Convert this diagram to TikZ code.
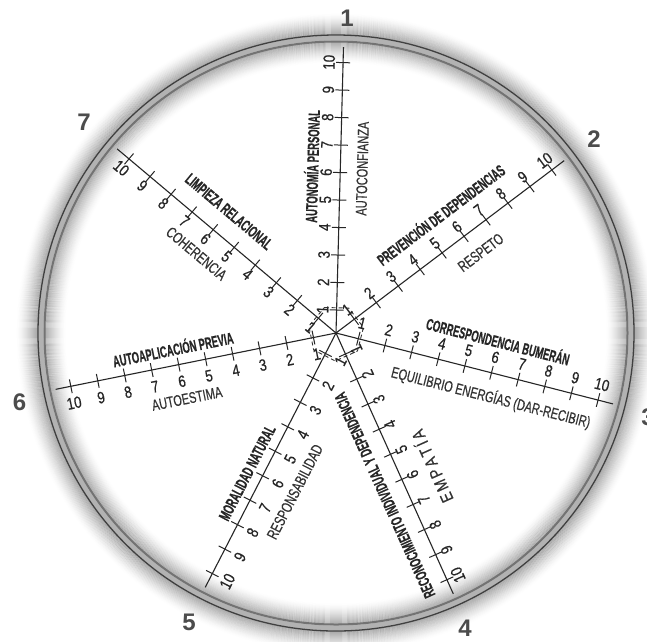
\documentclass[tikz,border=0pt]{standalone}
\usepackage{fontspec}
\setmainfont{Liberation Sans}
\newfontfamily\lblB[FakeStretch=0.58,FakeBold=0.4]{Liberation Sans Bold}
\newfontfamily\lblR[FakeStretch=0.71,FakeBold=0.4]{Liberation Sans}
\newfontfamily\empF[FakeStretch=0.8,FakeBold=0.5]{Liberation Sans}
\newfontfamily\numR[FakeStretch=0.8,FakeBold=0.5]{Liberation Sans}
\newfontfamily\ringF{Liberation Sans Bold}
\usetikzlibrary{calc}
\tikzset{
  axisline/.style={draw=black!85, line width=1.1pt},
  tickline/.style={draw=black!85, line width=1.0pt},
  numlbl/.style={inner sep=0pt, font=\numR\fontsize{16.5}{16.5}\selectfont, text=black!85},
  boldlbl/.style={inner sep=0pt, font=\lblB\fontsize{16.2}{16.2}\selectfont, text=black!85},
  reglbl/.style={inner sep=0pt, font=\lblR\fontsize{15.5}{15.5}\selectfont, text=black!80},
  emplbl/.style={inner sep=0pt, font=\empF\fontsize{17}{17}\selectfont, text=black!80},
  ringnum/.style={inner sep=0pt, font=\ringF\fontsize{24}{24}\selectfont, text=black!70},
}
\newcommand\drawspoke[4]{%
  \coordinate (e#1) at ($(c)+(#2:286)$);
  \draw[axisline] (c) -- (e#1);
  \foreach \k in {1,...,10}{
    \pgfmathsetmacro\rr{23+27.5*(\k-1)}
    \draw[tickline] ($(c)+(#2:\rr)+({#2+90}:7)$) -- ($(c)+(#2:\rr)+({#2-90}:7)$);
    \node[numlbl, rotate=#3] (n#1-\k) at ($(c)+(#2:\rr)+({#2+90}:#4)$) {\k};
  }
}
\begin{document}
\begin{tikzpicture}[x=1pt,y=1pt]
\useasboundingbox (0,0) rectangle (647,-641);
\fill[white] (0,0) rectangle (647,-641);
\coordinate (c) at (336,-333);
% halo of the ring
\foreach \d [evaluate=\d as \op using {0.3*(1-\d/22)^1.5}] in {0,...,21} {
  \draw[black, line width=1.1pt, opacity=\op] (c) circle ({298+\d});
  \draw[black, line width=1.1pt, opacity=\op] (c) circle ({292-\d});
}
\draw[black!30, line width=5pt] (c) circle (295);
\draw[black!75, line width=1.3pt] (c) circle (298);
\draw[black!55, line width=2pt] (c) circle (291.5);
% dashed heptagon
\draw[black!80, line width=0.9pt, dash pattern=on 4pt off 3pt] ($(c)+(114.21:28)$)
  \foreach \j in {1,...,6}{ -- ($(c)+({114.21-51.4286*\j}:28)$) } -- cycle;
% spokes
\drawspoke{1}{88.5}{88.5}{14}
\drawspoke{2}{37.07}{37.07}{12}
\drawspoke{3}{-14.36}{-14.36}{16}
\drawspoke{4}{-65.79}{114.21}{12}
\drawspoke{5}{-117.21}{62.79}{17}
\drawspoke{6}{-168.64}{11.36}{17}
\drawspoke{7}{139.93}{-40.07}{12}
% labels
\node[boldlbl, rotate=88.5] (lab1a) at ($(c)+(88.5:166)+(178.5:29)$) {AUTONOMÍA PERSONAL};
\node[reglbl, rotate=88.5] (lab1b) at ($(c)+(88.5:165)+(178.5:-22)$) {AUTOCONFIANZA};
\node[boldlbl, rotate=37.07] (lab2a) at ($(c)+(37.07:155)+(127.07:32)$) {PREVENCIÓN DE DEPENDENCIAS};
\node[reglbl, rotate=37.07] (lab2b) at ($(c)+(37.07:164)+(127.07:-23)$) {RESPETO};
\node[boldlbl, rotate=-14.36] (lab3a) at ($(c)+(-14.36:159)+(75.64:33)$) {CORRESPONDENCIA BUMERÁN};
\node[reglbl, rotate=-14.36] (lab3b) at ($(c)+(-14.36:166)+(75.64:-24)$) {EQUILIBRIO ENERGÍAS (DAR-RECIBIR)};
\node[boldlbl, rotate=114.21] (lab4a) at ($(c)+(-65.79:168)+(24.21:-22)$) {RECONOCIMIENTO INDIVIDUAL Y DEPENDENCIA};
\node[emplbl, rotate=114.21] (lab4b) at ($(c)+(-65.79:161)+(24.21:32)$) {E\hspace{3pt}M\hspace{3pt}P\hspace{3pt}A\hspace{3pt}T\hspace{3pt}Í\hspace{3pt}A};
\node[boldlbl, rotate=62.79] (lab5a) at ($(c)+(-117.21:165)+(-27.21:-15)$) {MORALIDAD NATURAL};
\node[reglbl, rotate=62.79] (lab5b) at ($(c)+(-117.21:160)+(-27.21:36)$) {RESPONSABILIDAD};
\node[boldlbl, rotate=11.36] (lab6a) at ($(c)+(-168.64:163)+(-78.64:-17)$) {AUTOAPLICACIÓN PREVIA};
\node[reglbl, rotate=11.36] (lab6b) at ($(c)+(-168.64:159)+(-78.64:35)$) {AUTOESTIMA};
\node[boldlbl, rotate=-40.07] (lab7a) at ($(c)+(139.93:160)+(229.93:-24)$) {LIMPIEZA RELACIONAL};
\node[reglbl, rotate=-40.07] (lab7b) at ($(c)+(139.93:158)+(229.93:29)$) {COHERENCIA};
% ring numbers
\node[ringnum] (r1) at (347,-18.5) {1};
\node[ringnum] (r2) at (594,-139) {2};
\node[ringnum] (r3) at (648,-417) {3};
\node[ringnum] (r4) at (465,-628) {4};
\node[ringnum] (r5) at (189,-622) {5};
\node[ringnum] (r6) at (19.5,-402) {6};
\node[ringnum] (r7) at (84,-122) {7};
\end{tikzpicture}
\end{document}
